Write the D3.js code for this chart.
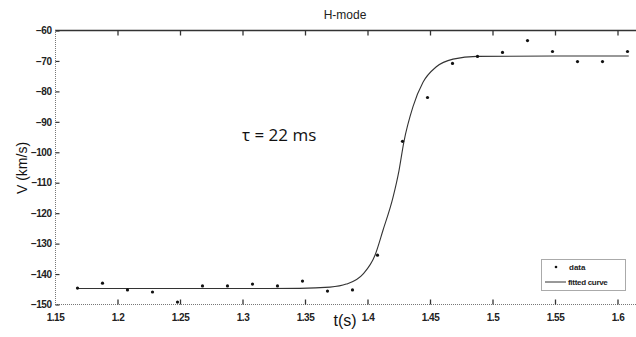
<!DOCTYPE html>
<html>
<head>
<meta charset="utf-8">
<script src="https://cdn.jsdelivr.net/npm/d3@7"></script>
<style>
  body { margin: 0; background: #fff; }
  svg { display: block; font-family: "Liberation Sans", Arial, sans-serif; }
</style>
</head>
<body>
<script>
// measured points (time in s, velocity in km/s)
let dataT = [1.168, 1.188, 1.208, 1.228, 1.248, 1.268, 1.288, 1.308, 1.328, 1.348,
             1.368, 1.388, 1.408, 1.428, 1.448, 1.468, 1.488, 1.508, 1.528, 1.548,
             1.568, 1.588, 1.608];
let dataV = [-144.6, -143.0, -145.2, -145.9, -149.2, -143.9, -143.9, -143.3, -143.9, -142.3,
             -145.6, -145.2, -133.8, -96.4, -82.0, -70.8, -68.5, -67.2, -63.3, -66.9,
             -70.2, -70.2, -66.9];

// fitted curve
let fitT = [1.168, 1.30, 1.346, 1.37, 1.383, 1.3964, 1.406, 1.4124, 1.4204, 1.4252,
            1.4290, 1.4364, 1.4444, 1.4548, 1.4684, 1.4876, 1.55, 1.609];
let fitV = [-144.75, -144.75, -144.7, -144.3, -143.3, -140.0, -133.8, -125.6, -114.8, -106.0,
            -96.8, -85.0, -77.0, -72.0, -69.4, -68.5, -68.4, -68.4];

let xTicks = [1.15, 1.2, 1.25, 1.3, 1.35, 1.4, 1.45, 1.5, 1.55, 1.6];
let yTicks = [-60, -70, -80, -90, -100, -110, -120, -130, -140, -150];

let width = 636, height = 337;
let svg = d3.select('body').append('svg').attr('width', width).attr('height', height);

let x = d3.scaleLinear().domain([1.15, 1.62]).range([55, 642.5]);
let y = d3.scaleLinear().domain([-150, -60]).range([304.5, 30.5]);

// frame: solid top, dotted left and bottom
svg.append('line').attr('x1', 55).attr('x2', width).attr('y1', 30.5).attr('y2', 30.5)
   .attr('stroke', '#333').attr('stroke-width', 1.3);
svg.append('line').attr('x1', 55.5).attr('x2', 55.5).attr('y1', 30).attr('y2', 305)
   .attr('stroke', '#777').attr('stroke-dasharray', '1,1');
svg.append('line').attr('x1', 55).attr('x2', width).attr('y1', 304.5).attr('y2', 304.5)
   .attr('stroke', '#777').attr('stroke-dasharray', '1,1');

// bottom axis (ticks point inward)
let xAxis = svg.append('g').attr('transform', 'translate(0,304.5)')
  .call(d3.axisBottom(x).tickValues(xTicks).tickSize(-5).tickPadding(9)
    .tickFormat(d3.format('')));
xAxis.select('.domain').remove();
xAxis.selectAll('line').attr('stroke', '#333').attr('stroke-width', 1.3)
  .filter(d => d === 1.15).remove();
xAxis.selectAll('text').attr('font-size', 10).attr('font-weight', 'bold')
  .attr('fill', '#222').attr('letter-spacing', -0.5);

// top ticks
let xTop = svg.append('g').attr('transform', 'translate(0,30.5)')
  .call(d3.axisTop(x).tickValues(xTicks.slice(1)).tickSize(-5).tickFormat(''));
xTop.select('.domain').remove();
xTop.selectAll('line').attr('stroke', '#333').attr('stroke-width', 1.3);

// left axis
let yAxis = svg.append('g').attr('transform', 'translate(55.5,0)')
  .call(d3.axisLeft(y).tickValues(yTicks).tickSize(-4).tickPadding(4));
yAxis.select('.domain').remove();
yAxis.selectAll('line').attr('stroke', '#333').attr('stroke-width', 1.2);
yAxis.selectAll('text').attr('font-size', 10).attr('font-weight', 'bold')
  .attr('fill', '#222').attr('letter-spacing', -0.5);

// fitted curve
let line = d3.line().x((d, i) => x(fitT[i])).y((d, i) => y(fitV[i])).curve(d3.curveMonotoneX);
svg.append('path').datum(fitV).attr('d', line)
   .attr('fill', 'none').attr('stroke', '#333').attr('stroke-width', 1.1);

// data points
svg.selectAll('circle.pt').data(dataV).enter().append('circle')
   .attr('class', 'pt')
   .attr('cx', (d, i) => x(dataT[i]))
   .attr('cy', d => y(d))
   .attr('r', 1.6)
   .attr('fill', '#111');

// title and labels
svg.append('text').attr('x', 345).attr('y', 19).attr('text-anchor', 'middle')
   .attr('font-size', 12).attr('fill', '#222').text('H-mode');
svg.append('text').attr('transform', 'translate(27,168) rotate(-90)')
   .attr('text-anchor', 'middle').attr('font-size', 14).attr('fill', '#111').text('V (km/s)');
svg.append('text').attr('x', 345).attr('y', 326).attr('text-anchor', 'middle')
   .attr('font-size', 16).attr('fill', '#111').text('t(s)');
svg.append('text').attr('x', 242).attr('y', 141)
   .attr('font-family', '"Open Sans", sans-serif')
   .attr('font-size', 17).attr('fill', '#111').text('τ = 22 ms');

// legend
let lg = svg.append('g');
lg.append('rect').attr('x', 541.5).attr('y', 259.5).attr('width', 84).attr('height', 31)
  .attr('fill', '#fff').attr('stroke', '#555').attr('stroke-dasharray', '1,1');
lg.append('circle').attr('cx', 556).attr('cy', 267).attr('r', 1.3).attr('fill', '#111');
lg.append('text').attr('x', 569).attr('y', 270).attr('font-size', 8)
  .attr('font-weight', 'bold').attr('fill', '#222').text('data');
lg.append('line').attr('x1', 545).attr('x2', 566).attr('y1', 282).attr('y2', 282)
  .attr('stroke', '#333').attr('stroke-width', 1);
lg.append('text').attr('x', 568).attr('y', 285).attr('font-size', 8)
  .attr('font-weight', 'bold').attr('fill', '#222').attr('letter-spacing', -0.3).text('fitted curve');
</script>
</body>
</html>
